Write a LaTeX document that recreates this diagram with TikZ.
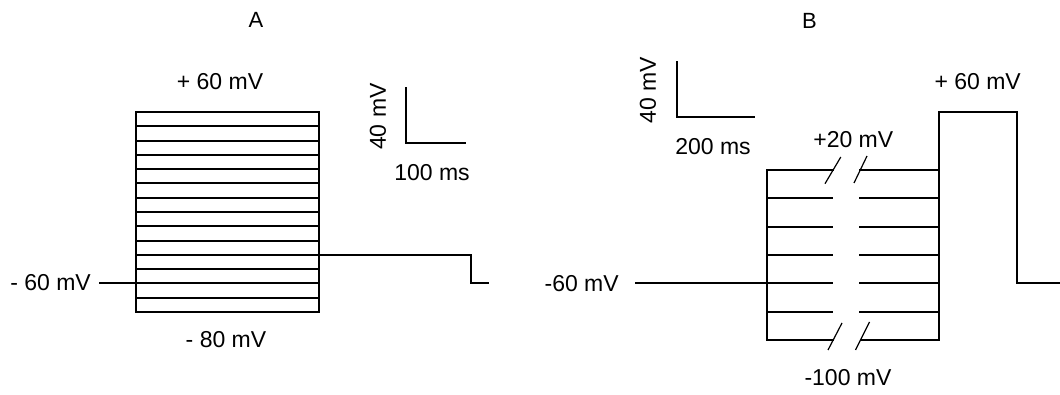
\documentclass[tikz,border=0pt]{standalone}
\usepackage{fontspec}
\setmainfont{Liberation Sans}
\begin{document}
\begin{tikzpicture}[x=1pt,y=-1pt,
  trace/.style={line width=2pt,line cap=rect},
  brk/.style={line width=1.2pt},
  lbl/.style={inner sep=0pt,font=\fontsize{23}{27}\selectfont},
  ttl/.style={inner sep=0pt,font=\fontsize{22}{26}\selectfont}]
\useasboundingbox (0,0) rectangle (1060,395);

% ---------- Panel A ----------
\node[ttl] (tA) at (256,20) {A};
% family of voltage steps
\foreach \i in {0,...,14}
  \draw[trace] (136,{round(112+\i*200/14)}) -- (319,{round(112+\i*200/14)});
\draw[trace] (136,112) -- (136,312);
\draw[trace] (319,112) -- (319,312);
\coordinate (aL) at (136,283);
\coordinate (aR) at (319,255);
\node[lbl,anchor=east] (hA) at (91,283) {- 60 mV};
\draw[trace] (hA.east) ++(9,0) coordinate (hAe) -- (aL);
% post-step level and return to holding
\coordinate (aS) at (471,255);
\coordinate (aE) at (488,283);
\draw[trace] (aR) -- (aS) |- (aE);
\node[lbl] (pA) at (220,82) {+ 60 mV};
\node[lbl] (mA) at (226,340) {- 80 mV};
% scale bar
\coordinate (sA0) at (406,88);
\coordinate (sA1) at (406,143);
\coordinate (sA2) at (465,143);
\draw[trace] (sA0) -- (sA1) -- (sA2);
\node[lbl,rotate=90] (vA) at (378,116.7) {40 mV};
\node[lbl] (tAs) at (432,173) {100 ms};

% ---------- Panel B ----------
\node[ttl] (tB) at (809.5,21) {B};
% scale bar
\coordinate (sB0) at (677,62);
\coordinate (sB1) at (677,117);
\coordinate (sB2) at (754,117);
\draw[trace] (sB0) -- (sB1) -- (sB2);
\node[lbl,rotate=90] (vB) at (648,90) {40 mV};
\node[lbl] (tBs) at (713,147) {200 ms};
% step family with a time break
\draw[trace] (767,170) -- (767,340);
\draw[trace] (939,340) -- (939,112) -- (1017,112) -- (1017,283) -- (1060,283);
\draw[trace] (767,170) -- (833,170);
\draw[trace] (860,170) -- (939,170);
\foreach \i in {1,...,5} {
  \draw[trace] (767,{round(170+\i*28.33)}) -- (832,{round(170+\i*28.33)});
  \draw[trace] (860,{round(170+\i*28.33)}) -- (939,{round(170+\i*28.33)});
}
\draw[trace] (767,340) -- (833,340);
\draw[trace] (861,340) -- (939,340);
% break marks
\draw[brk] (825,183.7) -- (840.8,157);
\draw[brk] (854,183) -- (867,156);
\draw[brk] (828,350) -- (842,323);
\draw[brk] (855.5,350) -- (869.5,322);
% holding level
\node[lbl] (hB) at (581.7,283.3) {-60 mV};
\coordinate (bL) at (767,283);
\draw[trace] (636,283) -- (bL);
\node[lbl] (pB) at (977.7,81.7) {+ 60 mV};
\node[lbl] (p20) at (853.3,140) {+20 mV};
\node[lbl] (m100) at (848,378) {-100 mV};
\end{tikzpicture}
\end{document}
